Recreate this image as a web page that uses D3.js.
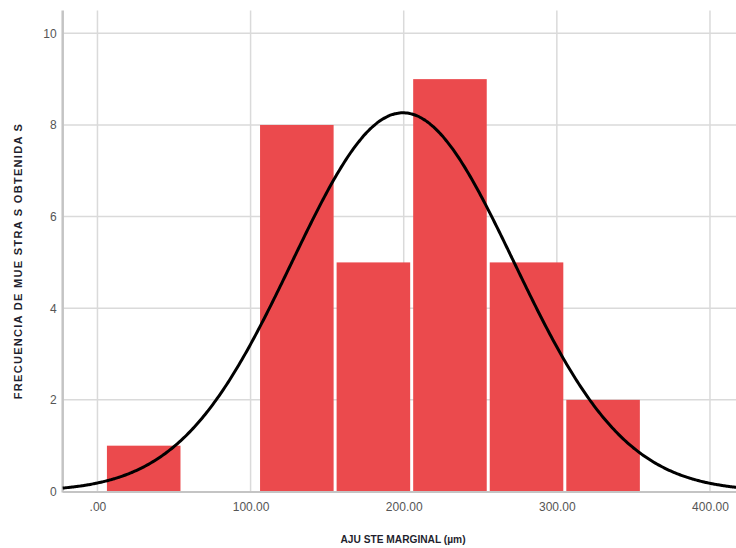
<!DOCTYPE html>
<html>
<head>
<meta charset="utf-8">
<script src="https://cdn.jsdelivr.net/npm/d3@7"></script>
<style>
	body { margin: 0; background: #fff; }
	svg { display: block; }
	.tick text { font-family: "Liberation Sans", Arial, sans-serif; }
</style>
</head>
<body>
<div id="chart"></div>
<script>
// histogram bins (lower edges, width 50) and their counts
var binStarts = [5.2, 55.2, 105.2, 155.2, 205.2, 255.2, 305.2];
var binWidth = 50;
var counts = [1, 0, 8, 5, 9, 5, 2];

// tick values
var xTicks = [0, 100, 200, 300, 400];
var xTickLabels = [".00", "100.00", "200.00", "300.00", "400.00"];
var yTicks = [0, 2, 4, 6, 8, 10];

// fitted normal curve
var curveMean = 199.5;
var curveSd = 72.4;
var curveN = 30;

var xTitle = "AJU STE MARGINAL (µm)";
var yTitle = "FRECUENCIA DE MUE STRA S OBTENIDA S";

var width = 736, height = 548;
var plotLeft = 62.7, plotRight = 736, plotTop = 10.4, plotBottom = 491.5;

var svg = d3.select("#chart").append("svg")
	.attr("width", width)
	.attr("height", height);

var x = d3.scaleLinear().domain([-22.7, 417]).range([plotLeft, plotRight]);
var y = d3.scaleLinear().domain([0, 10.5]).range([plotBottom, plotTop]);

// gridlines
svg.append("g").selectAll("line")
	.data(yTicks.slice(1))
	.enter().append("line")
	.attr("x1", plotLeft).attr("x2", plotRight)
	.attr("y1", function(d) { return y(d); })
	.attr("y2", function(d) { return y(d); })
	.attr("stroke", "#dadada")
	.attr("stroke-width", 1.5);

svg.append("g").selectAll("line")
	.data(xTicks)
	.enter().append("line")
	.attr("y1", plotTop).attr("y2", plotBottom)
	.attr("x1", function(d) { return x(d); })
	.attr("x2", function(d) { return x(d); })
	.attr("stroke", "#dadada")
	.attr("stroke-width", 1.5);

// bars
var bins = binStarts.map(function(s, i) { return { x0: s, x1: s + binWidth, n: counts[i] }; });
svg.append("g").selectAll("rect")
	.data(bins.filter(function(d) { return d.n > 0; }))
	.enter().append("rect")
	.attr("x", function(d) { return x(d.x0) + 1.5; })
	.attr("width", function(d) { return x(d.x1) - x(d.x0) - 3; })
	.attr("y", function(d) { return y(d.n); })
	.attr("height", function(d) { return y(0) - y(d.n); })
	.attr("fill", "#eb4a4d");

// axis lines
svg.append("line")
	.attr("x1", plotLeft).attr("x2", plotLeft)
	.attr("y1", plotTop).attr("y2", plotBottom + 1)
	.attr("stroke", "#c4c4c4")
	.attr("stroke-width", 2.5);
svg.append("line")
	.attr("x1", plotLeft).attr("x2", plotRight)
	.attr("y1", plotBottom + 0.5).attr("y2", plotBottom + 0.5)
	.attr("stroke", "#c4c4c4")
	.attr("stroke-width", 2);

// normal curve
var scaleFactor = curveN * binWidth / (curveSd * Math.sqrt(2 * Math.PI));
var curvePts = d3.range(x.domain()[0], x.domain()[1] + 1, 1).map(function(v) {
	var z = (v - curveMean) / curveSd;
	return [v, scaleFactor * Math.exp(-0.5 * z * z)];
});
var line = d3.line()
	.x(function(d) { return x(d[0]); })
	.y(function(d) { return y(d[1]); })
	.curve(d3.curveBasis);
svg.append("path")
	.datum(curvePts)
	.attr("d", line)
	.attr("fill", "none")
	.attr("stroke", "#000")
	.attr("stroke-width", 3);

// axes (labels only)
var xAxis = d3.axisBottom(x).tickValues(xTicks).tickSize(0).tickPadding(11)
	.tickFormat(function(d, i) { return xTickLabels[i]; });
var gx = svg.append("g").attr("transform", "translate(0," + plotBottom + ")").call(xAxis);
gx.select(".domain").remove();
gx.selectAll("text").attr("font-size", 12).attr("fill", "#555");

var yAxis = d3.axisLeft(y).tickValues(yTicks).tickSize(0).tickPadding(6)
	.tickFormat(d3.format("d"));
var gy = svg.append("g").attr("transform", "translate(" + plotLeft + ",0)").call(yAxis);
gy.select(".domain").remove();
gy.selectAll("text").attr("font-size", 12).attr("fill", "#555");

// titles
svg.append("text")
	.attr("x", 403).attr("y", 543)
	.attr("text-anchor", "middle")
	.attr("font-family", "Liberation Sans, Arial, sans-serif")
	.attr("font-size", 10.2)
	.attr("font-weight", "bold")
	.attr("fill", "#1f1f2e")
	.text(xTitle);

svg.append("text")
	.attr("transform", "translate(22,261) rotate(-90)")
	.attr("text-anchor", "middle")
	.attr("font-family", "Liberation Sans, Arial, sans-serif")
	.attr("font-size", 11)
	.attr("letter-spacing", 1.3)
	.attr("font-weight", "bold")
	.attr("fill", "#1f1f2e")
	.text(yTitle);
</script>
</body>
</html>
